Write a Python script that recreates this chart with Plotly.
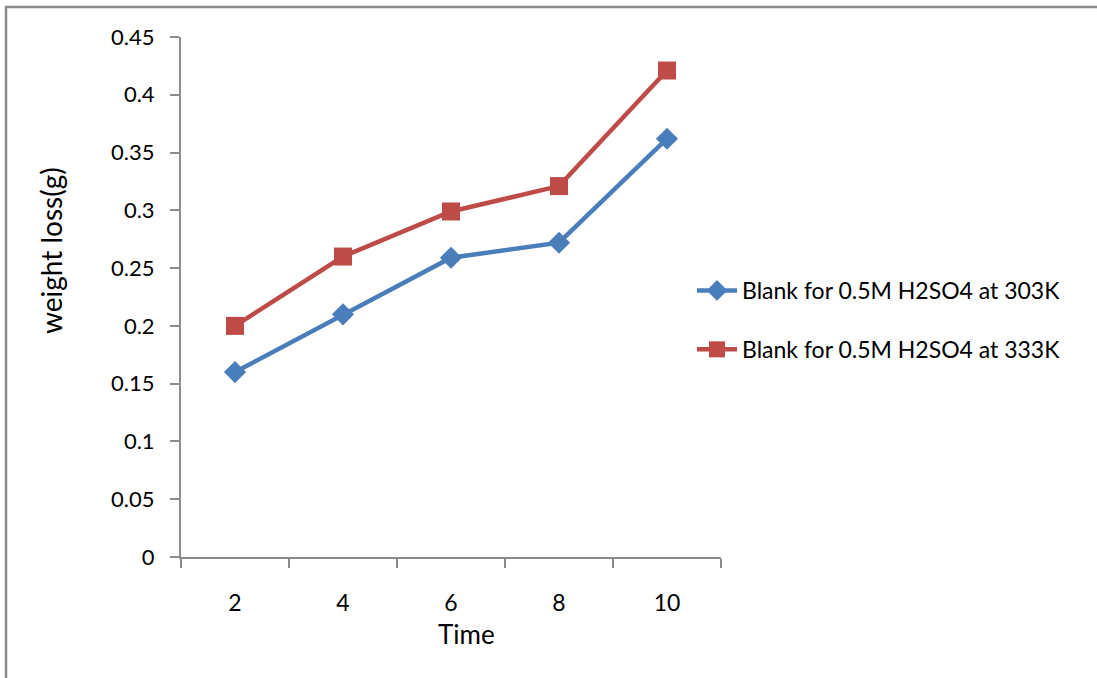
import plotly.graph_objects as go

# Time points and weight loss readings
time = [2, 4, 6, 8, 10]
loss_303k = [0.160, 0.210, 0.259, 0.272, 0.362]
loss_333k = [0.200, 0.260, 0.299, 0.321, 0.421]
series_names = ["Blank for 0.5M H2SO4 at 303K", "Blank for 0.5M H2SO4 at 333K"]
y_ticks = [0, 0.05, 0.1, 0.15, 0.2, 0.25, 0.3, 0.35, 0.4, 0.45]
y_tick_text = ["0", "0.05", "0.1", "0.15", "0.2", "0.25", "0.3", "0.35", "0.4", "0.45"]

BLUE = "#4A7EBB"
RED = "#BE4B48"
AXIS = "#8C8C8C"
FONT = "Lato, 'Open Sans', sans-serif"

W, H = 1097, 678
L, R, T, B = 181, 376, 37, 121
PW, PH = W - L - R, H - T - B


def px_x(p):
    return (p - L) / PW


def px_y(p):
    return (H - B - p) / PH


fig = go.Figure()
fig.add_trace(go.Scatter(
    x=time, y=loss_303k, name=series_names[0], mode="lines+markers",
    legendgroup="a",
    line=dict(color=BLUE, width=4.5),
    marker=dict(symbol="diamond", size=17, color=BLUE),
))
fig.add_trace(go.Scatter(
    x=time, y=loss_333k, name=series_names[1], mode="lines+markers",
    legendgroup="b",
    line=dict(color=RED, width=4.5),
    marker=dict(symbol="square", size=18, color=RED),
))

fig.update_layout(
    width=W, height=H,
    margin=dict(l=L, r=R, t=T, b=B),
    paper_bgcolor="white", plot_bgcolor="white",
    font=dict(family=FONT, size=22, color="black"),
    showlegend=True,
    legend=dict(
        x=px_x(692), y=px_y(320), xanchor="left", yanchor="middle",
        font=dict(size=23), tracegroupgap=26, itemwidth=40,
        bgcolor="rgba(0,0,0,0)",
    ),
    xaxis=dict(
        range=[1, 11], tickmode="array", tickvals=time,
        ticktext=[str(t) for t in time], ticks="",
        tickfont=dict(size=23),
        showgrid=False, zeroline=False,
        showline=True, linecolor=AXIS, linewidth=2,
        ticklabelstandoff=24,
        minor=dict(tickmode="array", tickvals=[1, 3, 5, 7, 9, 11],
                   ticks="outside", ticklen=9, tickcolor=AXIS, tickwidth=2,
                   showgrid=False),
        fixedrange=True,
    ),
    yaxis=dict(
        range=[0, 0.45], tickmode="array", tickvals=y_ticks, ticktext=y_tick_text,
        ticks="outside", ticklen=9, tickcolor=AXIS, tickwidth=2,
        tickfont=dict(size=22),
        showgrid=False, zeroline=False,
        showline=True, linecolor=AXIS, linewidth=2,
        ticklabelstandoff=11,
        fixedrange=True,
    ),
)

# Axis titles
fig.add_annotation(
    text="weight loss(g)", textangle=-90, showarrow=False,
    xref="paper", yref="paper", x=px_x(51), y=px_y(251),
    xanchor="center", yanchor="middle", font=dict(size=28),
)
fig.add_annotation(
    text="Time", showarrow=False,
    xref="paper", yref="paper", x=px_x(466), y=px_y(634),
    xanchor="center", yanchor="middle", font=dict(size=26),
)

# Outer chart frame (left and top edges visible)
fig.add_shape(
    type="path", xref="paper", yref="paper",
    path=f"M {px_x(6)} {px_y(700)} L {px_x(6)} {px_y(7)} L {px_x(1120)} {px_y(7)}",
    line=dict(color="#8A8A8A", width=2.5),
)

fig.write_html("out.html")
